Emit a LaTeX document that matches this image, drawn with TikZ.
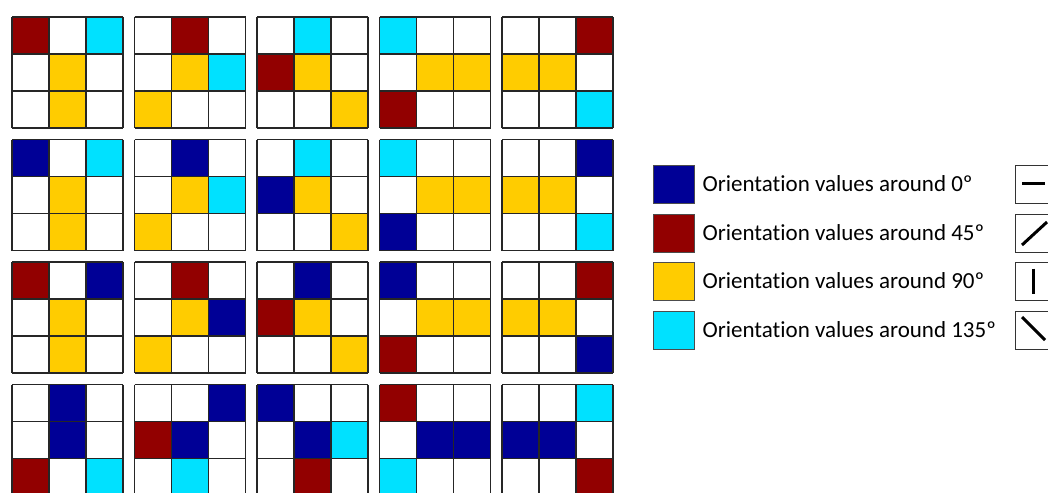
\documentclass[tikz,border=0pt]{standalone}
\usepackage{fontspec}
\setmainfont{Carlito}[Ligatures=NoCommon]
\usepackage{xcolor}
\usetikzlibrary{positioning}

\definecolor{orblue}{RGB}{0,0,150}
\definecolor{orred}{RGB}{146,0,0}
\definecolor{oryellow}{RGB}{255,204,0}
\definecolor{orcyan}{RGB}{0,225,255}

\tikzset{
  gridline/.style={line width=1.2pt, black!85},
  swatch/.style={draw=black!70, line width=0.8pt, minimum width=41pt, minimum height=38pt, inner sep=0pt},
  symbox/.style={draw=black!80, line width=0.8pt, minimum width=41pt, minimum height=38pt, inner sep=0pt},
  symline/.style={line width=3pt},
  legendtext/.style={font=\fontsize{23}{27}\selectfont, inner sep=1pt}
}

% one 3x3 orientation block: #1 column, #2 row, #3 cells as col/row/colour
\newcommand{\orblock}[3]{%
  \begin{scope}[shift={(12+122.5*#1,17+122.5*#2)}]
    \foreach \cx/\cy/\cc in {#3} \fill[\cc] (37*\cx,37*\cy) rectangle ++(37,37);
    \foreach \k in {0,37,74,111} {
      \draw[gridline] (\k,0) -- (\k,111);
      \draw[gridline] (0,\k) -- (111,\k);
    }
  \end{scope}}

\begin{document}
\begin{tikzpicture}[x=1pt, y=-1pt]
\useasboundingbox (0,0) rectangle (1048,492);
\fill[white] (0,0) rectangle (1048,492);
\clip (0,0) rectangle (1048,492);
% row 1
\orblock{0}{0}{0/0/orred, 2/0/orcyan, 1/1/oryellow, 1/2/oryellow}
\orblock{1}{0}{1/0/orred, 1/1/oryellow, 2/1/orcyan, 0/2/oryellow}
\orblock{2}{0}{1/0/orcyan, 0/1/orred, 1/1/oryellow, 2/2/oryellow}
\orblock{3}{0}{0/0/orcyan, 1/1/oryellow, 2/1/oryellow, 0/2/orred}
\orblock{4}{0}{2/0/orred, 0/1/oryellow, 1/1/oryellow, 2/2/orcyan}
% row 2
\orblock{0}{1}{0/0/orblue, 2/0/orcyan, 1/1/oryellow, 1/2/oryellow}
\orblock{1}{1}{1/0/orblue, 1/1/oryellow, 2/1/orcyan, 0/2/oryellow}
\orblock{2}{1}{1/0/orcyan, 0/1/orblue, 1/1/oryellow, 2/2/oryellow}
\orblock{3}{1}{0/0/orcyan, 1/1/oryellow, 2/1/oryellow, 0/2/orblue}
\orblock{4}{1}{2/0/orblue, 0/1/oryellow, 1/1/oryellow, 2/2/orcyan}
% row 3
\orblock{0}{2}{0/0/orred, 2/0/orblue, 1/1/oryellow, 1/2/oryellow}
\orblock{1}{2}{1/0/orred, 1/1/oryellow, 2/1/orblue, 0/2/oryellow}
\orblock{2}{2}{1/0/orblue, 0/1/orred, 1/1/oryellow, 2/2/oryellow}
\orblock{3}{2}{0/0/orblue, 1/1/oryellow, 2/1/oryellow, 0/2/orred}
\orblock{4}{2}{2/0/orred, 0/1/oryellow, 1/1/oryellow, 2/2/orblue}
% row 4
\orblock{0}{3}{1/0/orblue, 1/1/orblue, 0/2/orred, 2/2/orcyan}
\orblock{1}{3}{2/0/orblue, 0/1/orred, 1/1/orblue, 1/2/orcyan}
\orblock{2}{3}{0/0/orblue, 1/1/orblue, 2/1/orcyan, 1/2/orred}
\orblock{3}{3}{0/0/orred, 1/1/orblue, 2/1/orblue, 0/2/orcyan}
\orblock{4}{3}{2/0/orcyan, 0/1/orblue, 1/1/orblue, 2/2/orred}
% legend
\node[swatch, fill=orblue] (sw0) at (673.5,184) {};
\node[swatch, fill=orred] (sw45) at (673.5,233) {};
\node[swatch, fill=oryellow] (sw90) at (673.5,281) {};
\node[swatch, fill=orcyan] (sw135) at (673.5,330) {};
\node[legendtext, right=7pt of sw0] (tx0) {Orientation values around 0º};
\node[legendtext, right=7pt of sw45] (tx45) {Orientation values around 45º};
\node[legendtext, right=7pt of sw90] (tx90) {Orientation values around 90º};
\node[legendtext, right=7pt of sw135] (tx135) {Orientation values around 135º};
% line symbols
\node[symbox] (sy0) at (1035.5,184) {};
\node[symbox] (sy45) at (1035.5,233) {};
\node[symbox] (sy90) at (1035.5,281) {};
\node[symbox] (sy135) at (1035.5,330) {};
\draw[symline, shift={(sy0.center)}] (-13.5,-1) -- (9.5,-1);
\draw[symline, shift={(sy45.center)}] (-13.5,12) -- (11.5,-11);
\draw[symline, shift={(sy90.center)}] (-2.5,-12.5) -- (-2.5,12.5);
\draw[symline, shift={(sy135.center)}] (-13.5,-13) -- (9.5,10);
\end{tikzpicture}
\end{document}
